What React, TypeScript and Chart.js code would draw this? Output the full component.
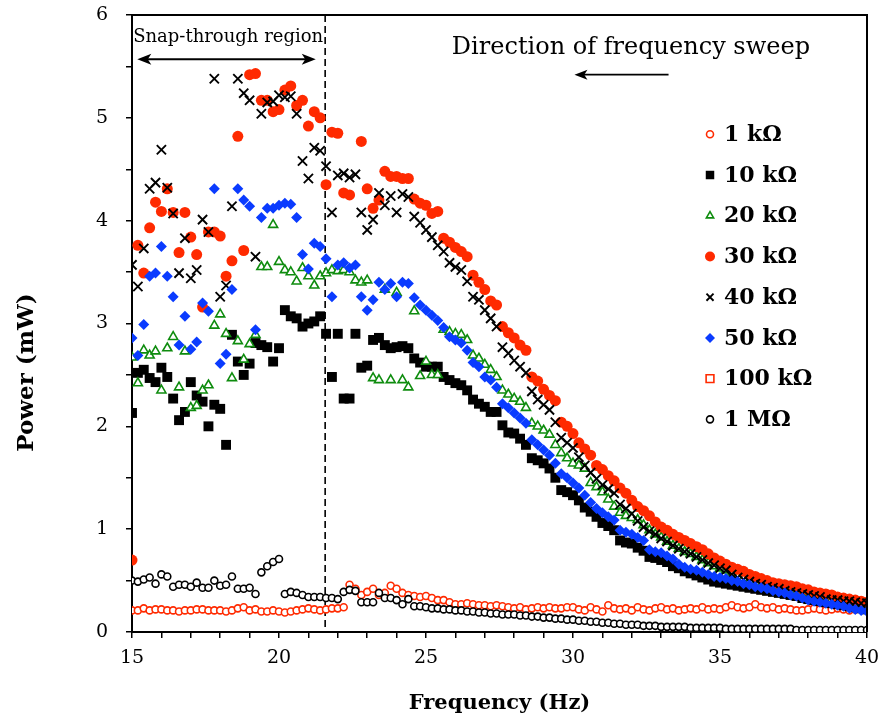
import React, { useEffect, useRef } from 'react';
import { Chart, registerables } from 'chart.js';
import { drawPoint } from 'chart.js/helpers';

Chart.register(...registerables);

// Frequency grid of the sweep (Hz)
const FREQ = [
  15.0, 15.2, 15.4, 15.6, 15.8, 16.0, 16.2, 16.4, 16.6, 16.8,
  17.0, 17.2, 17.4, 17.6, 17.8, 18.0, 18.2, 18.4, 18.6, 18.8,
  19.0, 19.2, 19.4, 19.6, 19.8, 20.0, 20.2, 20.4, 20.6, 20.8,
  21.0, 21.2, 21.4, 21.6, 21.8, 22.0, 22.2, 22.4, 22.6, 22.8,
  23.0, 23.2, 23.4, 23.6, 23.8, 24.0, 24.2, 24.4, 24.6, 24.8,
  25.0, 25.2, 25.4, 25.6, 25.8, 26.0, 26.2, 26.4, 26.6, 26.8,
  27.0, 27.2, 27.4, 27.6, 27.8, 28.0, 28.2, 28.4, 28.6, 28.8,
  29.0, 29.2, 29.4, 29.6, 29.8, 30.0, 30.2, 30.4, 30.6, 30.8,
  31.0, 31.2, 31.4, 31.6, 31.8, 32.0, 32.2, 32.4, 32.6, 32.8,
  33.0, 33.2, 33.4, 33.6, 33.8, 34.0, 34.2, 34.4, 34.6, 34.8,
  35.0, 35.2, 35.4, 35.6, 35.8, 36.0, 36.2, 36.4, 36.6, 36.8,
  37.0, 37.2, 37.4, 37.6, 37.8, 38.0, 38.2, 38.4, 38.6, 38.8,
  39.0, 39.2, 39.4, 39.6, 39.8, 40.0,
];

// Power (mW) per load resistance, aligned with FREQ
const P_1K = [
  0.21, 0.21, 0.23, 0.21, 0.22, 0.22, 0.21, 0.21, 0.20, 0.21,
  0.21, 0.22, 0.22, 0.21, 0.21, 0.21, 0.20, 0.21, 0.23, 0.24,
  0.21, 0.22, 0.20, 0.20, 0.21, 0.20, 0.19, 0.20, 0.21, 0.22,
  0.23, 0.22, 0.21, 0.22, 0.23, 0.23, 0.24, 0.46, 0.42, 0.36,
  0.39, 0.42, 0.36, 0.38, 0.45, 0.42, 0.38, 0.36, 0.35, 0.34,
  0.35, 0.33, 0.31, 0.31, 0.29, 0.27, 0.27, 0.28, 0.27, 0.26,
  0.26, 0.25, 0.26, 0.25, 0.24, 0.23, 0.24, 0.22, 0.23, 0.24,
  0.23, 0.24, 0.23, 0.23, 0.24, 0.24, 0.22, 0.21, 0.24, 0.22,
  0.20, 0.26, 0.23, 0.22, 0.23, 0.21, 0.24, 0.22, 0.21, 0.23,
  0.24, 0.22, 0.23, 0.21, 0.22, 0.23, 0.22, 0.24, 0.22, 0.23,
  0.22, 0.24, 0.26, 0.24, 0.23, 0.24, 0.27, 0.24, 0.23, 0.24,
  0.22, 0.23, 0.22, 0.21, 0.21, 0.22, 0.23, 0.22, 0.21, 0.22,
  0.23, 0.22, 0.21, 0.22, 0.22, 0.23,
];

const P_10K = [
  2.13, 2.52, 2.55, 2.47, 2.43, 2.57, 2.48, 2.27, 2.06, 2.14,
  2.43, 2.30, 2.24, 2.00, 2.21, 2.17, 1.82, 2.89, 2.63, 2.50,
  2.61, 2.81, 2.79, 2.77, 2.63, 2.76, 3.13, 3.07, 3.05, 2.97,
  3.00, 3.02, 3.07, 2.90, 2.48, 2.90, 2.27, 2.27, 2.90, 2.57,
  2.59, 2.84, 2.86, 2.79, 2.76, 2.77, 2.78, 2.76, 2.66, 2.62,
  2.58, 2.58, 2.58, 2.48, 2.45, 2.42, 2.40, 2.35, 2.26, 2.22,
  2.19, 2.14, 2.14, 2.01, 1.94, 1.93, 1.88, 1.82, 1.69, 1.67,
  1.64, 1.59, 1.50, 1.38, 1.36, 1.33, 1.28, 1.21, 1.17, 1.12,
  1.06, 1.03, 0.99, 0.89, 0.87, 0.86, 0.82, 0.79, 0.73, 0.72,
  0.70, 0.68, 0.64, 0.62, 0.59, 0.57, 0.55, 0.53, 0.51, 0.49,
  0.48, 0.47, 0.46, 0.45, 0.44, 0.43, 0.42, 0.41, 0.40, 0.39,
  0.38, 0.37, 0.36, 0.35, 0.33, 0.32, 0.31, 0.30, 0.29, 0.28,
  0.27, 0.26, 0.25, 0.24, 0.23, 0.22,
];

const P_20K = [
  2.67, 2.42, 2.74, 2.69, 2.73, 2.35, 2.76, 2.87, 2.38, 2.73,
  2.18, 2.20, 2.35, 2.40, 2.98, 3.09, 2.90, 2.47, 2.83, 2.65,
  2.80, 2.89, 3.55, 3.55, 3.96, 3.60, 3.52, 3.50, 3.41, 3.54,
  3.46, 3.37, 3.46, 3.49, 3.52, 3.51, 3.52, 3.50, 3.42, 3.40,
  3.42, 2.47, 2.45, 3.33, 2.45, 3.30, 2.45, 2.38, 3.12, 2.49,
  2.63, 2.50, 2.50, 2.94, 2.92, 2.90, 2.89, 2.84, 2.69, 2.66,
  2.60, 2.55, 2.48, 2.35, 2.31, 2.27, 2.24, 2.18, 2.03, 2.00,
  1.96, 1.92, 1.82, 1.74, 1.69, 1.64, 1.62, 1.59, 1.45, 1.41,
  1.36, 1.29, 1.22, 1.16, 1.13, 1.11, 1.09, 1.04, 0.99, 0.95,
  0.92, 0.88, 0.84, 0.81, 0.78, 0.76, 0.73, 0.70, 0.67, 0.64,
  0.62, 0.60, 0.57, 0.54, 0.52, 0.50, 0.48, 0.46, 0.45, 0.43,
  0.42, 0.40, 0.39, 0.38, 0.36, 0.35, 0.34, 0.33, 0.32, 0.31,
  0.30, 0.29, 0.29, 0.28, 0.27, 0.26,
];

const P_30K = [
  0.70, 3.76, 3.49, 3.93, 4.18, 4.09, 4.31, 4.08, 3.69, 4.08,
  3.84, 3.67, 3.16, 3.89, 3.89, 3.85, 3.46, 3.61, 4.82, 3.71,
  5.42, 5.43, 5.17, 5.17, 5.06, 5.08, 5.27, 5.31, 5.12, 5.17,
  4.92, 5.06, 5.00, 4.35, 4.86, 4.85, 4.27, 4.25, null, 4.77,
  4.31, 4.12, 4.20, 4.48, 4.43, 4.43, 4.41, 4.41, 4.21, 4.17,
  4.15, 4.07, 4.09, 3.83, 3.79, 3.74, 3.70, 3.65, 3.47, 3.40,
  3.33, 3.22, 3.18, 2.97, 2.91, 2.86, 2.79, 2.74, 2.48, 2.44,
  2.36, 2.30, 2.25, 2.04, 2.00, 1.93, 1.84, 1.78, 1.72, 1.62,
  1.58, 1.52, 1.47, 1.40, 1.35, 1.28, 1.22, 1.18, 1.13, 1.07,
  1.02, 0.99, 0.95, 0.92, 0.89, 0.86, 0.83, 0.80, 0.76, 0.72,
  0.69, 0.66, 0.63, 0.61, 0.59, 0.56, 0.54, 0.52, 0.50, 0.48,
  0.47, 0.46, 0.45, 0.44, 0.42, 0.41, 0.39, 0.38, 0.37, 0.36,
  0.34, 0.33, 0.32, 0.31, 0.30, 0.29,
];

const P_40K = [
  3.57, 3.36, 3.73, 4.31, 4.37, 4.69, 4.32, 4.07, 3.49, 3.83,
  3.44, 3.52, 4.01, 3.89, 5.38, 3.26, 3.37, 4.14, 5.38, 5.24,
  5.17, 3.65, 5.04, 5.15, 5.16, 5.22, 5.20, 5.21, 5.04, 4.58,
  4.41, 4.71, 4.68, 4.53, 4.08, 4.44, 4.46, 4.42, 4.45, 4.08,
  3.91, 4.01, 4.27, 4.15, 4.24, 4.08, 4.26, 4.23, 4.04, 3.98,
  3.91, 3.84, 3.76, 3.70, 3.59, 3.55, 3.52, 3.41, 3.26, 3.23,
  3.13, 3.05, 2.97, 2.77, 2.71, 2.64, 2.58, 2.52, 2.34, 2.26,
  2.21, 2.16, 2.04, 1.89, 1.84, 1.79, 1.70, 1.62, 1.55, 1.49,
  1.43, 1.39, 1.35, 1.24, 1.20, 1.15, 1.08, 1.02, 0.98, 0.95,
  0.91, 0.88, 0.84, 0.81, 0.78, 0.76, 0.73, 0.70, 0.67, 0.65,
  0.62, 0.60, 0.56, 0.53, 0.51, 0.49, 0.47, 0.46, 0.44, 0.43,
  0.42, 0.40, 0.39, 0.38, 0.37, 0.36, 0.35, 0.34, 0.32, 0.31,
  0.31, 0.30, 0.30, 0.29, 0.28, 0.28,
];

const P_50K = [
  2.86, 2.69, 2.99, 3.46, 3.49, 3.75, 3.46, 3.26, 2.79, 3.07,
  2.75, 2.82, 3.20, 3.12, 4.31, 2.61, 2.70, 3.33, 4.31, 4.20,
  4.14, 2.94, 4.03, 4.12, 4.12, 4.15, 4.17, 4.16, 4.03, 3.67,
  3.53, 3.78, 3.75, 3.63, 3.26, 3.57, 3.59, 3.54, 3.57, 3.26,
  3.13, 3.23, 3.40, 3.33, 3.39, 3.26, 3.40, 3.39, 3.25, 3.18,
  3.13, 3.08, 3.03, 2.96, 2.87, 2.84, 2.81, 2.74, 2.62, 2.58,
  2.48, 2.45, 2.38, 2.22, 2.18, 2.13, 2.08, 2.03, 1.87, 1.82,
  1.77, 1.72, 1.64, 1.54, 1.50, 1.45, 1.40, 1.33, 1.26, 1.20,
  1.16, 1.12, 1.09, 0.99, 0.97, 0.95, 0.92, 0.89, 0.80, 0.78,
  0.77, 0.74, 0.71, 0.66, 0.63, 0.61, 0.60, 0.58, 0.56, 0.54,
  0.53, 0.52, 0.50, 0.49, 0.47, 0.46, 0.44, 0.43, 0.42, 0.40,
  0.39, 0.38, 0.36, 0.35, 0.33, 0.31, 0.30, 0.29, 0.28, 0.27,
  0.26, 0.25, 0.23, 0.22, 0.21, 0.20,
];

const P_100K: (number | null)[] = [];

const P_1M = [
  0.50, 0.49, 0.51, 0.53, 0.47, 0.56, 0.54, 0.44, 0.46, 0.46,
  0.44, 0.48, 0.43, 0.43, 0.50, 0.45, 0.46, 0.54, 0.42, 0.42,
  0.43, 0.37, 0.58, 0.64, 0.68, 0.71, 0.37, 0.39, 0.38, 0.36,
  0.34, 0.34, 0.34, 0.33, 0.33, 0.32, 0.39, 0.41, 0.40, 0.29,
  0.29, 0.29, 0.38, 0.33, 0.33, 0.31, 0.27, 0.32, 0.25, 0.25,
  0.24, 0.23, 0.23, 0.22, 0.22, 0.21, 0.21, 0.20, 0.20, 0.19,
  0.19, 0.18, 0.18, 0.17, 0.17, 0.17, 0.16, 0.16, 0.15, 0.15,
  0.14, 0.14, 0.13, 0.13, 0.12, 0.12, 0.11, 0.11, 0.10, 0.10,
  0.09, 0.09, 0.08, 0.08, 0.07, 0.07, 0.07, 0.06, 0.06, 0.06,
  0.05, 0.05, 0.05, 0.05, 0.05, 0.04, 0.04, 0.04, 0.04, 0.04,
  0.04, 0.03, 0.03, 0.03, 0.03, 0.03, 0.03, 0.03, 0.03, 0.03,
  0.03, 0.03, 0.03, 0.02, 0.02, 0.02, 0.02, 0.02, 0.02, 0.02,
  0.02, 0.02, 0.02, 0.02, 0.02, 0.02,
];

const SERIES_LABELS = ['1 kΩ', '10 kΩ', '20 kΩ', '30 kΩ', '40 kΩ', '50 kΩ', '100 kΩ', '1 MΩ'];

// Axis settings
const X_MIN = 15;
const X_MAX = 40;
const Y_MIN = 0;
const Y_MAX = 6;
const X_TITLE = 'Frequency (Hz)';
const Y_TITLE = 'Power (mW)';

// Annotations (data coordinates)
const SNAP_BOUNDARY_HZ = 21.57;
const SNAP_ARROW = { from: 15.18, to: 21.25, y: 5.57 };
const SNAP_TEXT = { text: 'Snap-through region', x: 18.27, y: 5.78 };
const SWEEP_TEXT = { text: 'Direction of frequency sweep', x: 31.97, y: 5.68 };
const SWEEP_ARROW = { from: 33.25, to: 30.05, y: 5.42 };
const LEGEND_POS = { x: 34.66, top: 4.84, step: 0.396 };

const RED = '#FF2A00';
const GREEN = '#0E8C0E';
const BLUE = '#0A3BFF';
const BLACK = '#000000';
const SERIF = "'DejaVu Serif', serif";

type Style = {
  pointStyle: string; radius: number; legendRadius: number;
  bg: string; border: string; bw: number;
};

const STYLES: Style[] = [
  { pointStyle: 'circle', radius: 3.5, legendRadius: 3.5, bg: '#ffffff', border: RED, bw: 1.6 },
  { pointStyle: 'rect', radius: 7, legendRadius: 6, bg: BLACK, border: BLACK, bw: 0 },
  { pointStyle: 'triangle', radius: 5.2, legendRadius: 4.2, bg: '#ffffff', border: GREEN, bw: 1.6 },
  { pointStyle: 'circle', radius: 5.5, legendRadius: 5, bg: RED, border: RED, bw: 0 },
  { pointStyle: 'crossRot', radius: 6.5, legendRadius: 5, bg: BLACK, border: BLACK, bw: 1.9 },
  { pointStyle: 'rectRot', radius: 5.5, legendRadius: 5, bg: BLUE, border: BLUE, bw: 0 },
  { pointStyle: 'rect', radius: 5.5, legendRadius: 5.5, bg: '#ffffff', border: RED, bw: 1.6 },
  { pointStyle: 'circle', radius: 3.5, legendRadius: 3.5, bg: '#ffffff', border: BLACK, bw: 1.6 },
];

const SERIES_VALUES = [P_1K, P_10K, P_20K, P_30K, P_40K, P_50K, P_100K, P_1M];

function toPoints(vals: (number | null)[]) {
  const pts: { x: number; y: number }[] = [];
  FREQ.forEach((f, i) => {
    const v = vals[i];
    if (v !== null && v !== undefined) pts.push({ x: f, y: v });
  });
  return pts;
}

function arrowHead(ctx: CanvasRenderingContext2D, x: number, y: number, dir: number, len: number, half: number) {
  ctx.beginPath();
  ctx.moveTo(x, y);
  ctx.lineTo(x - dir * len, y - half);
  ctx.lineTo(x - dir * len * 0.75, y);
  ctx.lineTo(x - dir * len, y + half);
  ctx.closePath();
  ctx.fill();
}

const decorPlugin = {
  id: 'decor',
  beforeDatasetsDraw(chart: any) {
    const { ctx, chartArea, scales } = chart;
    const x = scales.x.getPixelForValue(SNAP_BOUNDARY_HZ);
    ctx.save();
    ctx.strokeStyle = BLACK;
    ctx.lineWidth = 1.6;
    ctx.setLineDash([7, 4]);
    ctx.beginPath();
    ctx.moveTo(x, chartArea.top);
    ctx.lineTo(x, chartArea.bottom);
    ctx.stroke();
    ctx.restore();
  },
  afterDatasetsDraw(chart: any) {
    const { ctx, chartArea, scales } = chart;
    const xs = scales.x;
    const ys = scales.y;
    ctx.save();
    // frame (top and right)
    ctx.strokeStyle = BLACK;
    ctx.lineWidth = 2;
    ctx.beginPath();
    ctx.moveTo(chartArea.left, chartArea.top);
    ctx.lineTo(chartArea.right, chartArea.top);
    ctx.lineTo(chartArea.right, chartArea.bottom);
    ctx.stroke();

    ctx.fillStyle = BLACK;
    // snap-through arrow
    const ay = ys.getPixelForValue(SNAP_ARROW.y);
    const ax1 = xs.getPixelForValue(SNAP_ARROW.from);
    const ax2 = xs.getPixelForValue(SNAP_ARROW.to);
    ctx.lineWidth = 2;
    ctx.beginPath();
    ctx.moveTo(ax1 + 6, ay);
    ctx.lineTo(ax2 - 6, ay);
    ctx.stroke();
    arrowHead(ctx, ax1, ay, -1, 14, 5.5);
    arrowHead(ctx, ax2, ay, 1, 14, 5.5);

    // sweep arrow
    const sy = ys.getPixelForValue(SWEEP_ARROW.y);
    const sx1 = xs.getPixelForValue(SWEEP_ARROW.from);
    const sx2 = xs.getPixelForValue(SWEEP_ARROW.to);
    ctx.lineWidth = 1.8;
    ctx.beginPath();
    ctx.moveTo(sx1, sy);
    ctx.lineTo(sx2 + 8, sy);
    ctx.stroke();
    arrowHead(ctx, sx2, sy, -1, 13, 5);

    // texts
    ctx.textAlign = 'center';
    ctx.textBaseline = 'middle';
    ctx.font = `18px ${SERIF}`;
    ctx.fillText(SNAP_TEXT.text, xs.getPixelForValue(SNAP_TEXT.x), ys.getPixelForValue(SNAP_TEXT.y));
    ctx.font = `24px ${SERIF}`;
    ctx.fillText(SWEEP_TEXT.text, xs.getPixelForValue(SWEEP_TEXT.x), ys.getPixelForValue(SWEEP_TEXT.y));

    // y axis title
    ctx.save();
    ctx.translate(27, (chartArea.top + chartArea.bottom) / 2 + 49);
    ctx.rotate(-Math.PI / 2);
    ctx.font = `bold 23px ${SERIF}`;
    ctx.fillText(Y_TITLE, 0, 0);
    ctx.restore();

    // legend
    const lx = xs.getPixelForValue(LEGEND_POS.x);
    SERIES_LABELS.forEach((label, i) => {
      const st = STYLES[i];
      const ly = ys.getPixelForValue(LEGEND_POS.top - i * LEGEND_POS.step);
      ctx.save();
      ctx.fillStyle = st.bg;
      ctx.strokeStyle = st.border;
      ctx.lineWidth = st.bw;
      drawPoint(ctx, { pointStyle: st.pointStyle as any, radius: st.legendRadius, rotation: 0, borderWidth: st.bw }, lx, ly);
      ctx.restore();
      ctx.fillStyle = BLACK;
      ctx.textAlign = 'left';
      ctx.textBaseline = 'middle';
      ctx.font = `bold 22px ${SERIF}`;
      ctx.fillText(label, lx + 14, ly + 1);
    });
    ctx.restore();
  },
};

export default function App() {
  const canvasRef = useRef<HTMLCanvasElement | null>(null);

  useEffect(() => {
    if (!canvasRef.current) return;
    const n = SERIES_LABELS.length;
    const datasets = SERIES_LABELS.map((label, i) => {
      const st = STYLES[i];
      return {
        label,
        data: toPoints(SERIES_VALUES[i]),
        showLine: false,
        pointStyle: st.pointStyle,
        pointRadius: st.radius,
        pointHoverRadius: st.radius,
        pointBackgroundColor: st.bg,
        pointBorderColor: st.border,
        pointBorderWidth: st.bw,
        backgroundColor: st.bg,
        borderColor: st.border,
        order: n - i,
      };
    });

    const chart = new Chart(canvasRef.current, {
      type: 'scatter',
      data: { datasets: datasets as any },
      options: {
        animation: false,
        responsive: false,
        devicePixelRatio: 1,
        layout: { padding: { left: 0, top: 15, right: 18, bottom: 0 } },
        plugins: {
          legend: { display: false },
          tooltip: { enabled: false },
        },
        scales: {
          x: {
            type: 'linear',
            min: X_MIN,
            max: X_MAX,
            afterFit: (s: any) => { s.height = 89; s.paddingLeft = 0; s.paddingRight = 0; },
            ticks: {
              stepSize: 1,
              autoSkip: false,
              maxRotation: 0,
              padding: 9,
              color: BLACK,
              font: { family: SERIF, size: 19 },
              callback: (v: any) => (Number(v) % 5 === 0 ? String(v) : ''),
            },
            grid: { display: true, drawOnChartArea: false, drawTicks: true, tickLength: 6, color: BLACK, lineWidth: 1.5 },
            border: { display: true, color: BLACK, width: 2 },
            title: {
              display: true,
              text: X_TITLE,
              color: BLACK,
              font: { family: SERIF, size: 21, weight: 'bold' },
              padding: { top: 0, bottom: 5 },
            },
          },
          y: {
            type: 'linear',
            min: Y_MIN,
            max: Y_MAX,
            afterFit: (s: any) => { s.width = 132; s.paddingTop = 0; s.paddingBottom = 0; },
            ticks: {
              stepSize: 0.5,
              autoSkip: false,
              padding: 18,
              color: BLACK,
              font: { family: SERIF, size: 19 },
              callback: (v: any) => (Number.isInteger(Number(v)) ? String(v) : ''),
            },
            grid: { display: true, drawOnChartArea: false, drawTicks: true, tickLength: 6, color: BLACK, lineWidth: 1.5 },
            border: { display: true, color: BLACK, width: 2 },
          },
        },
      },
      plugins: [decorPlugin],
    });
    return () => chart.destroy();
  }, []);

  return (
    <div style={{ position: 'absolute', left: 0, top: 0, width: 885, height: 721, background: '#fff' }}>
      <canvas ref={canvasRef} width={885} height={721} style={{ display: 'block' }} />
    </div>
  );
}
